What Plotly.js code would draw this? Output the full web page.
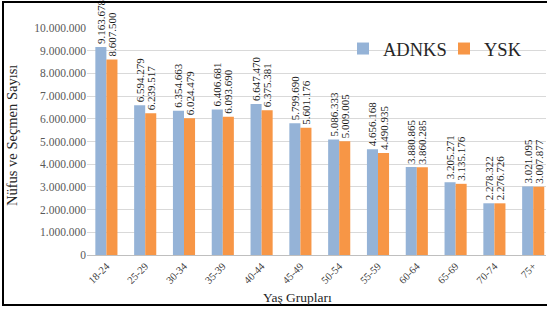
<!DOCTYPE html>
<html><head><meta charset="utf-8">
<script src="https://cdn.plot.ly/plotly-3.0.1.min.js"></script>
<style>html,body{margin:0;padding:0;background:#fff}#chart{width:547px;height:312px}</style>
</head><body><div id="chart"></div>
<script>
const categories = ["18-24","25-29","30-34","35-39","40-44","45-49","50-54","55-59","60-64","65-69","70-74","75+"];
const adnks = [9163678,6594279,6354663,6406681,6647470,5799690,5086333,4656168,3880865,3205271,2278322,3021095];
const ysk = [8607500,6239517,6024479,6093690,6375381,5601176,5009005,4490935,3860285,3135176,2276726,3007877];
const seriesNames = ["ADNKS","YSK"];
const yTitle = "Nüfus ve Seçmen Sayısı";
const xTitle = "Yaş Grupları";

const serif = "Liberation Serif, Times New Roman, serif";
const common = {
  type: 'bar', x: categories,
  texttemplate: '%{y:,d}', textposition: 'outside', textangle: -90,
  textfont: {family: serif, size: 11, color: '#1a1a1a'},
  cliponaxis: false, constraintext: 'none', hoverinfo: 'none'
};
const data = [
  Object.assign({}, common, {y: adnks, name: seriesNames[0], marker: {color: '#95B3D7'}}),
  Object.assign({}, common, {y: ysk, name: seriesNames[1], marker: {color: '#F79646'}})
];
const L = 87, R = 546, T = 28, B = 255;
const W = R - L, H = B - T;
const px = v => (v - L) / W, py = v => (B - v) / H;
const layout = {
  width: 547, height: 312,
  margin: {l: L, r: 547 - R, t: T, b: 312 - B, pad: 0},
  paper_bgcolor: '#fff', plot_bgcolor: '#fff',
  separators: ',.',
  barmode: 'group', bargap: 0.43, bargroupgap: 0,
  showlegend: true,
  legend: {orientation: 'h', x: px(343), y: py(30), xanchor: 'left', yanchor: 'top',
    font: {family: serif, size: 18.5, color: '#262626'}, bgcolor: 'rgba(0,0,0,0)',
    entrywidth: 56, entrywidthmode: 'pixels', itemwidth: 30, tracegroupgap: 0},
  xaxis: {range: [-0.5, 11.33], showgrid: false, showline: true, linecolor: '#BFBFBF', linewidth: 1,
    ticks: '', tickangle: -45, tickfont: {family: serif, size: 10.5, color: '#404040'}, fixedrange: true},
  yaxis: {range: [0, 10000000], dtick: 1000000, tickformat: ',d', showgrid: true, gridcolor: '#D9D9D9',
    zeroline: false, showline: false, ticks: '', ticklen: 0,
    tickfont: {family: serif, size: 11.5, color: '#595959'}, automargin: false, fixedrange: true},
  annotations: [
    {text: yTitle, xref: 'paper', yref: 'paper', x: px(12), y: py(136), xanchor: 'center', yanchor: 'middle',
      textangle: -90, showarrow: false, font: {family: serif, size: 14.5, color: '#262626'}},
    {text: xTitle, xref: 'paper', yref: 'paper', x: px(297), y: py(297), xanchor: 'center', yanchor: 'middle',
      showarrow: false, font: {family: serif, size: 13.5, color: '#262626'}}
  ],
  shapes: [
    {type: 'rect', xref: 'paper', yref: 'paper', x0: px(3), x1: px(570), y0: py(305), y1: py(2),
      line: {color: '#000', width: 2}, fillcolor: 'rgba(0,0,0,0)', layer: 'above'}
  ]
};
Plotly.newPlot('chart', data, layout, {staticPlot: true, displayModeBar: false});
</script></body></html>
